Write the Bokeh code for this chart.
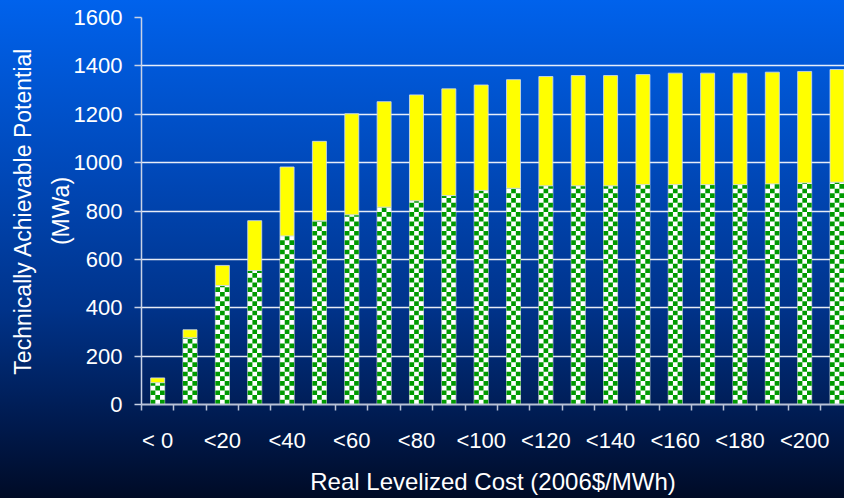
import numpy as np
from bokeh.plotting import figure
from bokeh.models import Range1d, FixedTicker, ColumnDataSource
from bokeh.embed import file_html
from bokeh.resources import INLINE

# ---- data ----
categories = ["< 0", "<10", "<20", "<30", "<40", "<50", "<60", "<70", "<80", "<90", "<100",
              "<110", "<120", "<130", "<140", "<150", "<160", "<170", "<180", "<190", "<200", "<210"]
green_mwa = [90, 276, 492, 554, 697, 760, 784, 816, 842, 864, 885,
             894, 904, 904, 904, 909, 909, 909, 909, 912, 916, 919]
total_mwa = [110, 309, 575, 760, 982, 1088, 1202, 1252, 1280, 1305, 1321,
             1343, 1356, 1360, 1360, 1364, 1370, 1370, 1370, 1374, 1377, 1385]
shown_tick_labels = ["< 0", "<20", "<40", "<60", "<80", "<100", "<120", "<140", "<160", "<180", "<200"]
y_ticks = [0, 200, 400, 600, 800, 1000, 1200, 1400, 1600]
y_title = "Technically Achievable Potential\n(MWa)"
x_title = "Real Levelized Cost (2006$/MWh)"

FONT = "Liberation Sans"
BAR_W = 0.433
CAT_PX = 32.35          # pixels per category in the reference
FRAME_PX = 703          # frame width in pixels

n = len(categories)
xc = [i + 0.5 for i in range(n)]

p = figure(width=844, height=498, output_backend="svg", toolbar_location=None,
           x_range=Range1d(0, FRAME_PX / CAT_PX), y_range=Range1d(0, 1600),
           min_border_left=141, min_border_right=0, min_border_top=17, min_border_bottom=94)
p.outline_line_color = None
p.background_fill_color = None
p.border_fill_color = None
p.styles = {"background": "linear-gradient(to bottom, #0062ec 0%, #0048b8 35%, #00338a 62%, #001a4e 85%, #000b26 100%)"}

# ---- bars ----
src = ColumnDataSource(dict(x=xc, green=green_mwa, total=total_mwa))
p.vbar(x="x", width=BAR_W, bottom=0, top="green", source=src,
       fill_color="white", line_color="#d6e6d6", line_alpha=0.8, line_width=1)

# checker pattern on the lower segment
cols = 3
row_h = 19.4
L, R, B, T = [], [], [], []
for i, g in enumerate(green_mwa):
    left0 = xc[i] - BAR_W / 2
    cw = BAR_W / cols
    nrows = int(np.ceil(g / row_h))
    for r in range(nrows):
        for c in range(cols):
            if (r + c) % 2 == 0:
                L.append(left0 + c * cw)
                R.append(left0 + (c + 1) * cw)
                B.append(r * row_h)
                T.append(min((r + 1) * row_h, g))
p.quad(left=L, right=R, bottom=B, top=T, fill_color="#009a00", line_color=None)

p.vbar(x="x", width=BAR_W, bottom="green", top="total", source=src,
       fill_color="#ffff00", line_color="#d0dcf4", line_alpha=0.8, line_width=1)

# ---- axes ----
p.xgrid.visible = False
p.ygrid.grid_line_color = "white"
p.ygrid.grid_line_width = 1.5
p.ygrid.grid_line_alpha = 0.9

yax = p.yaxis[0]
yax.ticker = FixedTicker(ticks=y_ticks, minor_ticks=[])
yax.major_tick_out = 7
yax.major_tick_in = 0
yax.minor_tick_out = 0
yax.minor_tick_in = 0
yax.axis_line_color = "#c8d2e6"
yax.axis_line_width = 1.5
yax.major_tick_line_color = "#c8d2e6"
yax.major_tick_line_width = 1.5
yax.major_label_text_color = "white"
yax.major_label_text_font = FONT
yax.major_label_text_font_size = "22px"
yax.major_label_standoff = 12
yax.axis_label = y_title
yax.axis_label_text_font = FONT
yax.axis_label_text_font_size = "23px"
yax.axis_label_text_font_style = "normal"
yax.axis_label_text_color = "white"
yax.axis_label_text_line_height = 1.45
yax.axis_label_standoff = -3

label_pos = [xc[i] for i in range(0, n, 2)][:len(shown_tick_labels)]
xax = p.xaxis[0]
xax.ticker = FixedTicker(ticks=label_pos, minor_ticks=list(range(n + 1)))
xax.major_label_overrides = {pos: lab for pos, lab in zip(label_pos, shown_tick_labels)}
xax.major_tick_out = 0
xax.major_tick_in = 0
xax.minor_tick_out = 6
xax.minor_tick_in = 0
xax.axis_line_color = "#b8c2d6"
xax.axis_line_width = 2
xax.minor_tick_line_color = "#b8c2d6"
xax.minor_tick_line_width = 1.5
xax.major_label_text_color = "white"
xax.major_label_text_font = FONT
xax.major_label_text_font_size = "22px"
xax.major_label_standoff = 17
xax.axis_label = x_title
xax.axis_label_text_font = FONT
xax.axis_label_text_font_size = "24px"
xax.axis_label_text_font_style = "normal"
xax.axis_label_text_color = "white"
xax.axis_label_standoff = 12

open("out.html", "w").write(file_html(p, INLINE))
